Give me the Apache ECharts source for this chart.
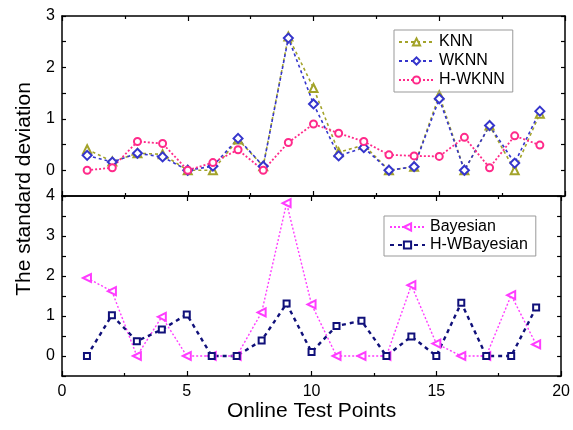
<!DOCTYPE html>
<html><head><meta charset="utf-8">
<script src="https://cdn.jsdelivr.net/npm/echarts@6/dist/echarts.min.js"></script>
<style>html,body{margin:0;padding:0;background:#fff}#c{width:573px;height:430px}</style>
</head><body><div id="c"></div>
<script>
const points = [1,2,3,4,5,6,7,8,9,10,11,12,13,14,15,16,17,18,19];
const knn   = [0.41,0.17,0.33,0.31,0.00,0.00,0.60,0.08,2.60,1.60,0.35,0.49,0.00,0.07,1.46,0.00,0.87,0.00,1.10];
const wknn  = [0.29,0.16,0.33,0.26,0.00,0.08,0.62,0.08,2.57,1.29,0.28,0.44,0.00,0.07,1.39,0.00,0.87,0.14,1.15];
const hwknn = [0.00,0.05,0.56,0.52,0.00,0.15,0.40,0.00,0.54,0.90,0.72,0.56,0.30,0.28,0.27,0.64,0.05,0.67,0.49];
const bayes = [1.95,1.62,0.00,0.98,0.00,0.00,0.00,1.09,3.82,1.29,0.00,0.00,0.00,1.77,0.31,0.00,0.00,1.52,0.29];
const hwbayes = [0.00,1.02,0.37,0.66,1.04,0.00,0.00,0.39,1.31,0.10,0.75,0.88,0.00,0.49,0.00,1.33,0.00,0.00,1.21];

const pair = (arr) => points.map((x, i) => [x, arr[i]]);
const FONT = 'Liberation Sans, Arial, sans-serif';

function xAx(gridIndex, pos, labels) {
  return {
    type: 'value', gridIndex, position: pos, min: 0, max: 20, interval: 5,
    axisLine: { show: true, onZero: false, lineStyle: { color: '#000', width: 1.5 } },
    axisTick: { show: true, inside: true, length: 5, lineStyle: { color: '#000', width: 1.2 } },
    minorTick: { show: true, splitNumber: 2, length: 3, lineStyle: { color: '#000', width: 1.2 } },
    axisLabel: { show: labels, color: '#000', fontSize: 16, fontFamily: FONT, margin: 8 },
    splitLine: { show: false },
    name: labels ? 'Online Test Points' : '',
    nameLocation: 'middle', nameGap: 25,
    nameTextStyle: { color: '#000', fontSize: 21, fontFamily: FONT }
  };
}
function yAx(gridIndex, pos, max, labels) {
  return {
    type: 'value', gridIndex, position: pos, min: -0.5, max, interval: 0.5,
    axisLine: { show: true, onZero: false, lineStyle: { color: '#000', width: 1.5 } },
    axisTick: { show: true, inside: true, length: 4, lineStyle: { color: '#000', width: 1.2 } },
    axisLabel: {
      show: labels, color: '#000', fontSize: 16, fontFamily: FONT, margin: 7,
      formatter: v => (Math.abs(v - Math.round(v)) < 1e-6 && v >= 0) ? String(Math.round(v)) : ''
    },
    splitLine: { show: false }
  };
}

const chart = echarts.init(document.getElementById('c'), null, { renderer: 'canvas' });
chart.setOption({
  backgroundColor: '#fff',
  animation: false,
  grid: [
    { left: 62, right: 8, top: 16, height: 180 },
    { left: 62, right: 8, top: 196, height: 180 }
  ],
  xAxis: [xAx(0, 'bottom', false), xAx(0, 'top', false), xAx(1, 'bottom', true), xAx(1, 'top', false)],
  yAxis: [yAx(0, 'left', 3, true), yAx(0, 'right', 3, false), yAx(1, 'left', 4, true), yAx(1, 'right', 4, false)],
  legend: [
    {
      data: ['KNN', 'WKNN', 'H-WKNN'], orient: 'vertical', left: 394, top: 30,
      itemWidth: 35, itemHeight: 9, itemGap: 3,
      padding: [4, 8, 4, 4], borderColor: '#999', borderWidth: 1,
      textStyle: { color: '#000', fontSize: 16, fontFamily: FONT }
    },
    {
      data: ['Bayesian', 'H-WBayesian'], orient: 'vertical', left: 384, top: 216,
      itemWidth: 35, itemHeight: 9, itemGap: 2,
      padding: [3, 8, 3, 5], borderColor: '#999', borderWidth: 1,
      textStyle: { color: '#000', fontSize: 16, fontFamily: FONT }
    }
  ],
  graphic: [{
    type: 'text', x: 24, y: 189, rotation: Math.PI / 2,
    style: { text: 'The standard deviation', fill: '#000', font: '21px ' + FONT, align: 'center', verticalAlign: 'middle' }
  }],
  series: [
    { name: 'KNN', type: 'line', xAxisIndex: 0, yAxisIndex: 0, data: pair(knn),
      symbol: 'emptyTriangle', symbolSize: 8, color: '#A3A32A',
      lineStyle: { width: 1.6, type: [3, 3] }, itemStyle: { borderWidth: 1, borderColor: '#B5B54A' } },
    { name: 'WKNN', type: 'line', xAxisIndex: 0, yAxisIndex: 0, data: pair(wknn),
      symbol: 'emptyDiamond', symbolSize: 9, color: '#3535CC',
      lineStyle: { width: 1.6, type: [3, 3] }, itemStyle: { borderWidth: 1, borderColor: '#5A5AD8' } },
    { name: 'H-WKNN', type: 'line', xAxisIndex: 0, yAxisIndex: 0, data: pair(hwknn),
      symbol: 'emptyCircle', symbolSize: 7, color: '#FF2A8A',
      lineStyle: { width: 1.8, type: [2, 2] }, itemStyle: { borderWidth: 1, borderColor: '#FF55A5' } },
    { name: 'Bayesian', type: 'line', xAxisIndex: 2, yAxisIndex: 2, data: pair(bayes),
      symbol: 'emptyTriangle', symbolRotate: 90, symbolSize: 8, color: '#FF3CFF',
      lineStyle: { width: 1.4, type: [2, 2] }, itemStyle: { borderWidth: 1, borderColor: '#FF5CFF' } },
    { name: 'H-WBayesian', type: 'line', xAxisIndex: 2, yAxisIndex: 2, data: pair(hwbayes),
      symbol: 'emptyRect', symbolSize: 6, color: '#10107A',
      lineStyle: { width: 2.4, type: [4, 4] }, itemStyle: { borderWidth: 1, borderColor: '#6666CC' } }
  ]
});
</script></body></html>
